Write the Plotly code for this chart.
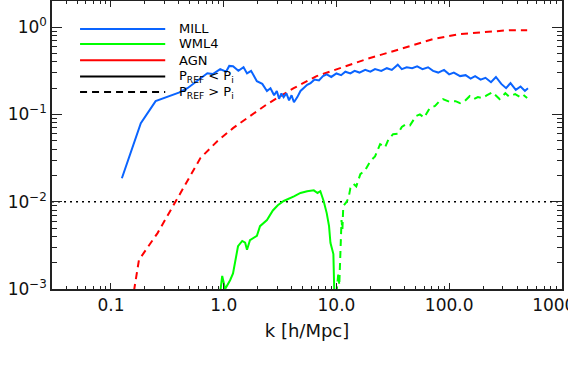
import plotly.graph_objects as go

# MILL (blue, solid everywhere)
mill_k = [0.125, 0.184, 0.249, 0.318, 0.40, 0.477, 0.55, 0.621, 0.716, 0.80, 0.931, 1.05, 1.12, 1.21,
          1.35, 1.5, 1.61, 1.75, 1.97, 2.2, 2.42, 2.6, 2.8, 2.96, 3.1, 3.25,
          3.4, 3.6, 3.8, 4.0, 4.2, 4.5, 4.8, 5.1, 5.5, 5.9, 6.4, 7.0, 7.6, 8.2, 9.0, 10, 11, 12,
          13.3, 14.5, 16, 18, 20, 22, 25, 28, 31, 35, 38, 42, 47, 52, 58, 65, 72, 80, 90, 100,
          110, 125, 140, 155, 170, 190, 210, 235, 260, 290, 320, 350, 390, 430, 470, 500]
mill_p = [0.0186, 0.0794, 0.142, 0.158, 0.178, 0.200, 0.229, 0.261, 0.297, 0.290, 0.330, 0.309, 0.36, 0.357,
          0.316, 0.347, 0.295, 0.316, 0.240, 0.224, 0.186, 0.200, 0.166, 0.186, 0.151, 0.174,
          0.158, 0.174, 0.145, 0.166, 0.138, 0.158, 0.186, 0.200, 0.219, 0.229, 0.251, 0.245, 0.275, 0.288,
          0.269, 0.295, 0.282, 0.309,
          0.295, 0.316, 0.302, 0.324, 0.309, 0.331, 0.316, 0.339, 0.324, 0.372, 0.331, 0.347, 0.339, 0.355,
          0.331, 0.347, 0.316, 0.302, 0.324, 0.288,
          0.302, 0.275, 0.282, 0.257, 0.275, 0.251, 0.263, 0.234, 0.269, 0.224, 0.200, 0.229, 0.191, 0.209,
          0.186, 0.200]

# WML4 (green): solid where P_REF < P_i, dashed where P_REF > P_i
wml4_lo_k = [0.93, 0.97, 1.03, 1.14, 1.21, 1.34, 1.46, 1.55, 1.61, 1.71, 1.97, 2.10, 2.42, 2.73, 3.02,
             3.41, 4.2, 4.8, 5.5, 6.3, 6.8, 7.2, 7.7, 8.2, 8.6, 8.85, 9.4, 9.6]
wml4_lo_p = [0.00089, 0.00141, 0.0010, 0.00126, 0.00151, 0.00309, 0.00355, 0.00339, 0.00282, 0.00363,
             0.00407, 0.00525, 0.00617, 0.00794, 0.00912, 0.0102, 0.0115, 0.0126, 0.0132, 0.0135,
             0.0126, 0.0132, 0.0102, 0.00741, 0.00525, 0.00339, 0.00251, 0.00079]
wml4_hi_k = [10.0, 10.2, 10.4, 10.6, 10.8, 11.1, 11.3, 11.5, 12.2, 12.8, 13.3, 14.2, 15.0, 16.3, 18, 20,
             22, 24.4, 27, 29, 31.8, 35, 38, 41.4, 45, 50.7, 55, 60, 67.3, 75, 82, 88, 100, 114, 125, 137,
             152, 165, 180, 197, 215, 242, 280, 315, 340, 385, 420, 450, 492]
wml4_hi_p = [0.00089, 0.0012, 0.00152, 0.0011, 0.00258, 0.00615, 0.0048, 0.00891, 0.0098, 0.0110, 0.0143,
             0.0160, 0.0150, 0.0207, 0.0230, 0.0292, 0.0330, 0.0457, 0.042, 0.052, 0.0594, 0.060, 0.072,
             0.0774, 0.075, 0.0957, 0.100, 0.092, 0.118, 0.125, 0.142, 0.150, 0.140, 0.142, 0.135, 0.142,
             0.162, 0.150, 0.158, 0.154, 0.165, 0.180, 0.150, 0.175, 0.160, 0.171, 0.160, 0.170, 0.154]

# AGN (red, dashed)
agn_k = [0.160, 0.177, 0.195, 0.259, 0.414, 0.621, 0.877, 1.21, 1.61, 2.42, 3.41, 4.18, 6.67, 10.8,
         18.4, 36.6, 71.6, 124, 197, 341, 492]
agn_p = [0.00095, 0.00214, 0.00258, 0.00437, 0.0126, 0.0316, 0.0494, 0.0697, 0.0906, 0.131, 0.171,
         0.200, 0.275, 0.339, 0.430, 0.560, 0.730, 0.832, 0.877, 0.925, 0.925]

x_ticks = [0.1, 1, 10, 100, 1000]
x_labels = ["0.1", "1.0", "10.0", "100.0", "1000.0"]
y_ticks = [0.001, 0.01, 0.1, 1]
y_labels = ["10<sup>\u22123</sup>", "10<sup>\u22122</sup>", "10<sup>\u22121</sup>", "10<sup>0</sup>"]
minor_x = [m * 10 ** e for e in range(-2, 3) for m in range(2, 10)]
minor_y = [m * 10 ** e for e in range(-3, 1) for m in range(2, 10)]

legend_names = ["MILL", "WML4", "AGN", "P<sub>REF</sub> &lt; P<sub>i</sub>", "P<sub>REF</sub> &gt; P<sub>i</sub>"]
legend_colors = ["#0a64ff", "#00ff00", "#ff0000", "black", "black"]
legend_dash = ["solid", "solid", "solid", "solid", "7px,5px"]

BLUE, GREEN, RED = "#0a64ff", "#00ff00", "#ff0000"
FONT = "DejaVu Sans"

fig = go.Figure()
fig.add_trace(go.Scatter(x=[0.03, 1000], y=[0.01, 0.01], mode="lines",
                         line=dict(color="black", width=1.5, dash="2px,4px"), showlegend=False))
fig.add_trace(go.Scatter(x=agn_k, y=agn_p, mode="lines",
                         line=dict(color=RED, width=2, dash="7px,5px"), showlegend=False))
fig.add_trace(go.Scatter(x=wml4_lo_k, y=wml4_lo_p, mode="lines",
                         line=dict(color=GREEN, width=2), showlegend=False))
fig.add_trace(go.Scatter(x=wml4_hi_k, y=wml4_hi_p, mode="lines",
                         line=dict(color=GREEN, width=2, dash="7px,5px"), showlegend=False))
fig.add_trace(go.Scatter(x=mill_k, y=mill_p, mode="lines",
                         line=dict(color=BLUE, width=2), showlegend=False))

# hand-drawn legend in the upper left, long line samples like the original
rows = [0.903, 0.851, 0.794, 0.738, 0.684]
for name, col, dash, yy in zip(legend_names, legend_colors, legend_dash, rows):
    fig.add_shape(type="line", xref="paper", yref="paper", x0=0.055, x1=0.222, y0=yy, y1=yy,
                  line=dict(color=col, width=2, dash=dash))
    fig.add_annotation(xref="paper", yref="paper", x=0.245, y=yy, text=name, showarrow=False,
                       xanchor="left", yanchor="middle", font=dict(family=FONT, size=13, color="black"))

axis_common = dict(type="log", showline=True, linecolor="#222", linewidth=1.5, mirror="ticks",
                   ticks="inside", tickcolor="#222", showgrid=False, zeroline=False,
                   tickfont=dict(family=FONT, size=17, color="#111"), automargin=False,
                   ticklabeloverflow="allow")

fig.update_xaxes(range=[-1.523, 3.001], tickvals=x_ticks, ticktext=x_labels, ticklen=6,
                 minor=dict(tickvals=minor_x, ticks="inside", ticklen=3, tickcolor="#222"),
                 title=dict(text="k [h/Mpc]", font=dict(family=FONT, size=18, color="#111"), standoff=10),
                 **axis_common)
fig.update_yaxes(range=[-3, 0.3], tickvals=y_ticks, ticktext=y_labels, ticklen=10,
                 minor=dict(tickvals=minor_y, ticks="inside", ticklen=5, tickcolor="#222"),
                 **axis_common)

fig.update_layout(width=568, height=384, template="none", plot_bgcolor="white", paper_bgcolor="white",
                  margin=dict(l=52, r=6, t=1, b=95), showlegend=False)

fig.write_html("out.html", config={"displayModeBar": False},
               post_script="document.body.style.margin='0';")
